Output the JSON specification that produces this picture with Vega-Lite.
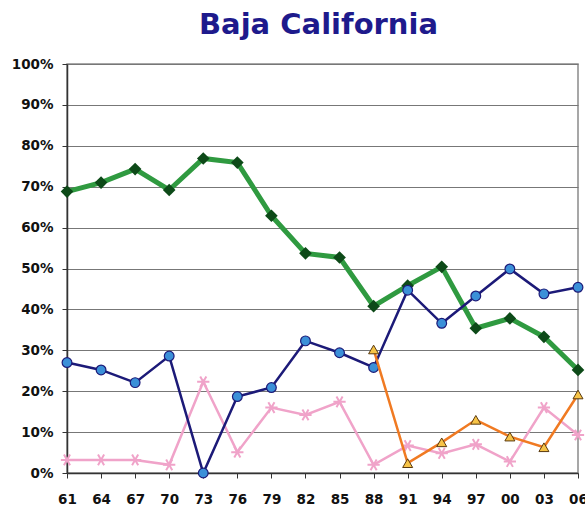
{
  "$schema": "https://vega.github.io/schema/vega-lite/v6.json",
  "autosize": {"type": "none"},
  "padding": {"left": 67, "top": 64, "right": 7, "bottom": 38},
  "width": 511,
  "height": 409,
  "background": "white",
  "title": {
    "text": "Baja California",
    "font": "DejaVu Sans",
    "fontWeight": "bold",
    "fontSize": 29,
    "color": "#1e1a8c",
    "anchor": "middle",
    "offset": 17,
    "dx": -4
  },
  "config": {
    "view": {"stroke": "#8a8a8a", "strokeWidth": 1.5},
    "axis": {
      "labelFont": "DejaVu Sans",
      "labelFontWeight": "bold",
      "labelFontSize": 13.5,
      "labelColor": "#111111",
      "domainColor": "#333333",
      "tickColor": "#333333",
      "labelOverlap": false,
      "title": null
    }
  },
  "data": {
    "values": [
      {"year": "61", "party": "PRI", "share": 0.688},
      {"year": "64", "party": "PRI", "share": 0.710},
      {"year": "67", "party": "PRI", "share": 0.743},
      {"year": "70", "party": "PRI", "share": 0.692},
      {"year": "73", "party": "PRI", "share": 0.769},
      {"year": "76", "party": "PRI", "share": 0.759},
      {"year": "79", "party": "PRI", "share": 0.629},
      {"year": "82", "party": "PRI", "share": 0.537},
      {"year": "85", "party": "PRI", "share": 0.527},
      {"year": "88", "party": "PRI", "share": 0.408},
      {"year": "91", "party": "PRI", "share": 0.458},
      {"year": "94", "party": "PRI", "share": 0.504},
      {"year": "97", "party": "PRI", "share": 0.354},
      {"year": "00", "party": "PRI", "share": 0.378},
      {"year": "03", "party": "PRI", "share": 0.333},
      {"year": "06", "party": "PRI", "share": 0.252},
      {"year": "61", "party": "PAN", "share": 0.270},
      {"year": "64", "party": "PAN", "share": 0.252},
      {"year": "67", "party": "PAN", "share": 0.221},
      {"year": "70", "party": "PAN", "share": 0.286},
      {"year": "73", "party": "PAN", "share": 0.0},
      {"year": "76", "party": "PAN", "share": 0.187},
      {"year": "79", "party": "PAN", "share": 0.209},
      {"year": "82", "party": "PAN", "share": 0.323},
      {"year": "85", "party": "PAN", "share": 0.294},
      {"year": "88", "party": "PAN", "share": 0.258},
      {"year": "91", "party": "PAN", "share": 0.447},
      {"year": "94", "party": "PAN", "share": 0.366},
      {"year": "97", "party": "PAN", "share": 0.433},
      {"year": "00", "party": "PAN", "share": 0.499},
      {"year": "03", "party": "PAN", "share": 0.438},
      {"year": "06", "party": "PAN", "share": 0.454},
      {"year": "61", "party": "Otros", "share": 0.032},
      {"year": "64", "party": "Otros", "share": 0.032},
      {"year": "67", "party": "Otros", "share": 0.032},
      {"year": "70", "party": "Otros", "share": 0.020},
      {"year": "73", "party": "Otros", "share": 0.223},
      {"year": "76", "party": "Otros", "share": 0.051},
      {"year": "79", "party": "Otros", "share": 0.160},
      {"year": "82", "party": "Otros", "share": 0.142},
      {"year": "85", "party": "Otros", "share": 0.174},
      {"year": "88", "party": "Otros", "share": 0.020},
      {"year": "91", "party": "Otros", "share": 0.067},
      {"year": "94", "party": "Otros", "share": 0.048},
      {"year": "97", "party": "Otros", "share": 0.070},
      {"year": "00", "party": "Otros", "share": 0.028},
      {"year": "03", "party": "Otros", "share": 0.160},
      {"year": "06", "party": "Otros", "share": 0.093},
      {"year": "88", "party": "PRD", "share": 0.302},
      {"year": "91", "party": "PRD", "share": 0.024},
      {"year": "94", "party": "PRD", "share": 0.075},
      {"year": "97", "party": "PRD", "share": 0.130},
      {"year": "00", "party": "PRD", "share": 0.089},
      {"year": "03", "party": "PRD", "share": 0.063},
      {"year": "06", "party": "PRD", "share": 0.192}
    ]
  },
  "encoding": {
    "x": {
      "field": "year",
      "type": "ordinal",
      "sort": ["61","64","67","70","73","76","79","82","85","88","91","94","97","00","03","06"],
      "scale": {"type": "point", "padding": 0},
      "axis": {"labelAngle": 0, "grid": false, "tickSize": 5, "labelPadding": 14, "domainWidth": 1.5}
    },
    "y": {
      "field": "share",
      "type": "quantitative",
      "scale": {"domain": [0, 1]},
      "axis": {"format": ".0%", "values": [0,0.1,0.2,0.3,0.4,0.5,0.6,0.7,0.8,0.9,1], "grid": true, "gridColor": "#777777", "gridWidth": 1.2, "tickSize": 5, "labelPadding": 9, "domainWidth": 1.5}
    }
  },
  "layer": [
    {
      "transform": [{"filter": "datum.party === 'PRI'"}],
      "mark": {"type": "line", "color": "#2f9a40", "strokeWidth": 5}
    },
    {
      "transform": [{"filter": "datum.party === 'PRI'"}],
      "mark": {"type": "point", "shape": "diamond", "filled": true, "color": "#0d4a18", "size": 160, "opacity": 1}
    },
    {
      "transform": [{"filter": "datum.party === 'Otros'"}],
      "mark": {"type": "line", "color": "#f0a3c9", "strokeWidth": 2.5}
    },
    {
      "transform": [{"filter": "datum.party === 'Otros'"}],
      "mark": {"type": "point", "shape": "M-1,0L1,0M-0.5,-0.87L0.5,0.87M-0.5,0.87L0.5,-0.87", "filled": false, "stroke": "#f0a3c9", "strokeWidth": 2, "size": 150, "opacity": 1}
    },
    {
      "transform": [{"filter": "datum.party === 'PAN'"}],
      "mark": {"type": "line", "color": "#1c1a78", "strokeWidth": 2.5}
    },
    {
      "transform": [{"filter": "datum.party === 'PAN'"}],
      "mark": {"type": "point", "shape": "circle", "filled": true, "fill": "#3b90d8", "stroke": "#1c1a78", "strokeWidth": 1.2, "size": 95, "opacity": 1}
    },
    {
      "transform": [{"filter": "datum.party === 'PRD'"}],
      "mark": {"type": "line", "color": "#f07a22", "strokeWidth": 2.5}
    },
    {
      "transform": [{"filter": "datum.party === 'PRD'"}],
      "mark": {"type": "point", "shape": "triangle-up", "filled": true, "fill": "#f7c447", "stroke": "#5a3a10", "strokeWidth": 1, "size": 100, "opacity": 1}
    }
  ]
}
